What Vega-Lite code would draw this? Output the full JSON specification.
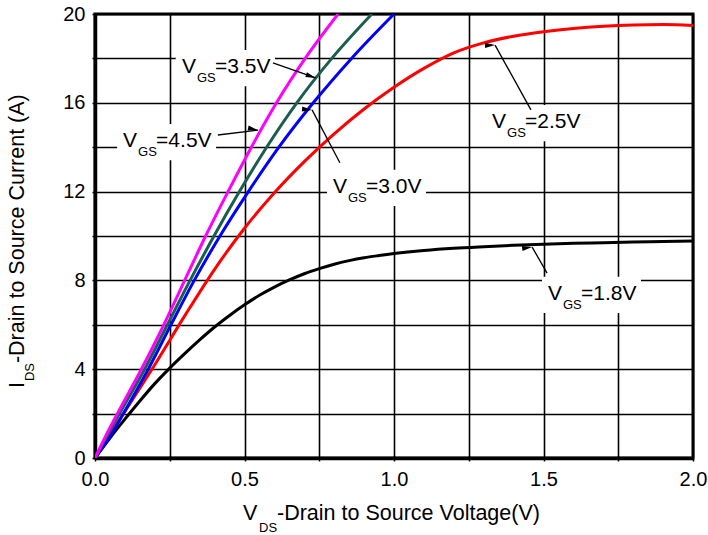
{
  "$schema": "https://vega.github.io/schema/vega-lite/v6.json",
  "width": 598,
  "height": 444,
  "autosize": "none",
  "padding": {"left": 95, "top": 14, "right": 15, "bottom": 77},
  "background": "white",
  "config": {
    "view": {"stroke": "black", "strokeWidth": 3},
    "font": "Liberation Sans"
  },
  "datasets": {
    "curves": [
      {"vgs": "1.8V", "v": 0, "i": 0}, {"vgs": "1.8V", "v": 0.05, "i": 0.9}, {"vgs": "1.8V", "v": 0.1, "i": 1.75}, {"vgs": "1.8V", "v": 0.15, "i": 2.57}, {"vgs": "1.8V", "v": 0.2, "i": 3.35}, {"vgs": "1.8V", "v": 0.25, "i": 4.05}, {"vgs": "1.8V", "v": 0.3, "i": 4.7}, {"vgs": "1.8V", "v": 0.35, "i": 5.32}, {"vgs": "1.8V", "v": 0.4, "i": 5.9}, {"vgs": "1.8V", "v": 0.45, "i": 6.42}, {"vgs": "1.8V", "v": 0.5, "i": 6.9}, {"vgs": "1.8V", "v": 0.55, "i": 7.33}, {"vgs": "1.8V", "v": 0.6, "i": 7.7}, {"vgs": "1.8V", "v": 0.65, "i": 8.02}, {"vgs": "1.8V", "v": 0.7, "i": 8.3}, {"vgs": "1.8V", "v": 0.75, "i": 8.53}, {"vgs": "1.8V", "v": 0.8, "i": 8.73}, {"vgs": "1.8V", "v": 0.85, "i": 8.89}, {"vgs": "1.8V", "v": 0.9, "i": 9.02}, {"vgs": "1.8V", "v": 0.95, "i": 9.12}, {"vgs": "1.8V", "v": 1.0, "i": 9.21}, {"vgs": "1.8V", "v": 1.1, "i": 9.35}, {"vgs": "1.8V", "v": 1.2, "i": 9.45}, {"vgs": "1.8V", "v": 1.3, "i": 9.52}, {"vgs": "1.8V", "v": 1.4, "i": 9.58}, {"vgs": "1.8V", "v": 1.5, "i": 9.63}, {"vgs": "1.8V", "v": 1.6, "i": 9.67}, {"vgs": "1.8V", "v": 1.7, "i": 9.7}, {"vgs": "1.8V", "v": 1.8, "i": 9.73}, {"vgs": "1.8V", "v": 1.9, "i": 9.75}, {"vgs": "1.8V", "v": 2.0, "i": 9.77},
      {"vgs": "2.5V", "v": 0, "i": 0}, {"vgs": "2.5V", "v": 0.1, "i": 2.1}, {"vgs": "2.5V", "v": 0.2, "i": 4.2}, {"vgs": "2.5V", "v": 0.3, "i": 6.4}, {"vgs": "2.5V", "v": 0.4, "i": 8.5}, {"vgs": "2.5V", "v": 0.5, "i": 10.35}, {"vgs": "2.5V", "v": 0.6, "i": 11.95}, {"vgs": "2.5V", "v": 0.7, "i": 13.35}, {"vgs": "2.5V", "v": 0.8, "i": 14.6}, {"vgs": "2.5V", "v": 0.9, "i": 15.72}, {"vgs": "2.5V", "v": 1.0, "i": 16.7}, {"vgs": "2.5V", "v": 1.1, "i": 17.55}, {"vgs": "2.5V", "v": 1.2, "i": 18.25}, {"vgs": "2.5V", "v": 1.3, "i": 18.7}, {"vgs": "2.5V", "v": 1.4, "i": 19.0}, {"vgs": "2.5V", "v": 1.5, "i": 19.2}, {"vgs": "2.5V", "v": 1.6, "i": 19.35}, {"vgs": "2.5V", "v": 1.7, "i": 19.45}, {"vgs": "2.5V", "v": 1.8, "i": 19.51}, {"vgs": "2.5V", "v": 1.9, "i": 19.53}, {"vgs": "2.5V", "v": 2.0, "i": 19.48},
      {"vgs": "3.0V", "v": 0, "i": 0}, {"vgs": "3.0V", "v": 0.052, "i": 1}, {"vgs": "3.0V", "v": 0.095, "i": 2}, {"vgs": "3.0V", "v": 0.178, "i": 4}, {"vgs": "3.0V", "v": 0.254, "i": 6}, {"vgs": "3.0V", "v": 0.332, "i": 8}, {"vgs": "3.0V", "v": 0.418, "i": 10}, {"vgs": "3.0V", "v": 0.513, "i": 12}, {"vgs": "3.0V", "v": 0.615, "i": 14}, {"vgs": "3.0V", "v": 0.73, "i": 16}, {"vgs": "3.0V", "v": 0.858, "i": 18}, {"vgs": "3.0V", "v": 1.0, "i": 20},
      {"vgs": "3.5V", "v": 0, "i": 0}, {"vgs": "3.5V", "v": 0.04, "i": 1}, {"vgs": "3.5V", "v": 0.082, "i": 2}, {"vgs": "3.5V", "v": 0.166, "i": 4}, {"vgs": "3.5V", "v": 0.242, "i": 6}, {"vgs": "3.5V", "v": 0.318, "i": 8}, {"vgs": "3.5V", "v": 0.398, "i": 10}, {"vgs": "3.5V", "v": 0.483, "i": 12}, {"vgs": "3.5V", "v": 0.574, "i": 14}, {"vgs": "3.5V", "v": 0.675, "i": 16}, {"vgs": "3.5V", "v": 0.792, "i": 18}, {"vgs": "3.5V", "v": 0.926, "i": 20},
      {"vgs": "4.5V", "v": 0, "i": 0}, {"vgs": "4.5V", "v": 0.036, "i": 1}, {"vgs": "4.5V", "v": 0.075, "i": 2}, {"vgs": "4.5V", "v": 0.155, "i": 4}, {"vgs": "4.5V", "v": 0.23, "i": 6}, {"vgs": "4.5V", "v": 0.3, "i": 8}, {"vgs": "4.5V", "v": 0.37, "i": 10}, {"vgs": "4.5V", "v": 0.445, "i": 12}, {"vgs": "4.5V", "v": 0.523, "i": 14}, {"vgs": "4.5V", "v": 0.607, "i": 16}, {"vgs": "4.5V", "v": 0.703, "i": 18}, {"vgs": "4.5V", "v": 0.813, "i": 20}
    ],
    "labels": [
      {"vgs": "3.5V", "val": "=3.5V", "lx": 0.291, "ly": 17.34, "bx1": 0.27, "bx2": 0.602, "by1": 16.75, "by2": 18.38, "ax1": 0.595, "ay1": 17.8, "ax2": 0.738, "ay2": 17.12},
      {"vgs": "4.5V", "val": "=4.5V", "lx": 0.094, "ly": 14.0, "bx1": 0.074, "bx2": 0.405, "by1": 13.41, "by2": 15.04, "ax1": 0.411, "ay1": 14.55, "ax2": 0.545, "ay2": 14.77},
      {"vgs": "3.0V", "val": "=3.0V", "lx": 0.796, "ly": 11.94, "bx1": 0.776, "bx2": 1.107, "by1": 11.35, "by2": 12.98, "ax1": 0.819, "ay1": 13.3, "ax2": 0.726, "ay2": 15.68},
      {"vgs": "2.5V", "val": "=2.5V", "lx": 1.328, "ly": 14.86, "bx1": 1.308, "bx2": 1.639, "by1": 14.27, "by2": 15.9, "ax1": 1.458, "ay1": 15.68, "ax2": 1.338, "ay2": 18.6},
      {"vgs": "1.8V", "val": "=1.8V", "lx": 1.515, "ly": 7.12, "bx1": 1.495, "bx2": 1.826, "by1": 6.53, "by2": 8.16, "ax1": 1.512, "ay1": 8.33, "ax2": 1.462, "ay2": 9.5}
    ],
    "xtitle": [{"v": 0.495, "i": -2.79, "sym": "V", "sub": "DS", "rest": "-Drain to Source Voltage(V)"}],
    "ytitle": [{"v": -0.237, "i": 3.15, "sym": "I", "sub": "DS", "rest": "-Drain to Source Current (A)"}]
  },
  "layer": [
    {
      "data": {"name": "labels"},
      "mark": {"type": "rect", "color": "white", "opacity": 1},
      "encoding": {
        "x": {"field": "bx1", "type": "quantitative", "title": null, "scale": {"domain": [0, 2], "nice": false, "zero": false},
          "axis": {"values": [0, 0.25, 0.5, 0.75, 1, 1.25, 1.5, 1.75, 2], "labelExpr": "datum.value % 0.5 == 0 ? format(datum.value, '.1f') : ''", "grid": true, "gridColor": "black", "gridWidth": 1.6, "gridOpacity": 1, "domain": true, "domainColor": "black", "domainWidth": 3.5, "ticks": true, "tickSize": 3, "tickColor": "black", "tickWidth": 1.5, "labelFont": "Liberation Sans", "labelFontSize": 20, "labelColor": "black", "labelPadding": 8, "labelFlush": false, "labelOverlap": false, "labelBound": false}},
        "x2": {"field": "bx2"},
        "y": {"field": "by1", "type": "quantitative", "title": null, "scale": {"domain": [0, 20], "nice": false, "zero": false},
          "axis": {"values": [0, 2, 4, 6, 8, 10, 12, 14, 16, 18, 20], "labelExpr": "datum.value % 4 == 0 ? format(datum.value, 'd') : ''", "grid": true, "gridColor": "black", "gridWidth": 1.6, "gridOpacity": 1, "domain": true, "domainColor": "black", "domainWidth": 3.5, "ticks": true, "tickSize": 3, "tickColor": "black", "tickWidth": 1.5, "labelFont": "Liberation Sans", "labelFontSize": 20, "labelColor": "black", "labelPadding": 7, "labelFlush": false, "labelOverlap": false, "labelBound": false}},
        "y2": {"field": "by2"}
      }
    },
    {
      "data": {"name": "curves"},
      "mark": {"type": "line", "strokeWidth": 3, "interpolate": "monotone", "clip": true},
      "encoding": {
        "x": {"field": "v", "type": "quantitative", "title": null},
        "y": {"field": "i", "type": "quantitative", "title": null},
        "color": {"field": "vgs", "type": "nominal", "legend": null, "scale": {"domain": ["1.8V", "2.5V", "3.0V", "3.5V", "4.5V"], "range": ["#000000", "#ff0000", "#0000ff", "#1b5e50", "#ff00ff"]}}
      }
    },
    {
      "data": {"name": "labels"},
      "mark": {"type": "rule", "color": "black", "strokeWidth": 1.3},
      "encoding": {
        "x": {"field": "ax1", "type": "quantitative", "title": null},
        "y": {"field": "ay1", "type": "quantitative", "title": null},
        "x2": {"field": "ax2"},
        "y2": {"field": "ay2"}
      }
    },
    {
      "data": {"name": "labels"},
      "mark": {"type": "point", "shape": "M0,0L-0.65,2.6L0.65,2.6Z", "filled": true, "color": "black", "opacity": 1, "size": 60},
      "encoding": {
        "x": {"field": "ax2", "type": "quantitative", "title": null},
        "y": {"field": "ay2", "type": "quantitative", "title": null},
        "angle": {"field": "vgs", "type": "nominal", "legend": null, "scale": {"domain": ["3.5V", "4.5V", "3.0V", "2.5V", "1.8V"], "range": [109, 81.5, 335, 330, 330]}}
      }
    },
    {
      "data": {"name": "labels"},
      "mark": {"type": "text", "text": "V", "align": "left", "baseline": "alphabetic", "fontSize": 21, "color": "black"},
      "encoding": {"x": {"field": "lx", "type": "quantitative", "title": null}, "y": {"field": "ly", "type": "quantitative", "title": null}}
    },
    {
      "data": {"name": "labels"},
      "mark": {"type": "text", "text": "GS", "align": "left", "baseline": "alphabetic", "fontSize": 13, "dx": 15, "dy": 9, "color": "black"},
      "encoding": {"x": {"field": "lx", "type": "quantitative", "title": null}, "y": {"field": "ly", "type": "quantitative", "title": null}}
    },
    {
      "data": {"name": "labels"},
      "mark": {"type": "text", "align": "left", "baseline": "alphabetic", "fontSize": 21, "dx": 33, "color": "black"},
      "encoding": {"x": {"field": "lx", "type": "quantitative", "title": null}, "y": {"field": "ly", "type": "quantitative", "title": null}, "text": {"field": "val"}}
    },
    {
      "data": {"name": "xtitle"},
      "mark": {"type": "text", "align": "left", "baseline": "alphabetic", "fontSize": 21.5, "color": "black"},
      "encoding": {"x": {"field": "v", "type": "quantitative", "title": null}, "y": {"field": "i", "type": "quantitative", "title": null}, "text": {"field": "sym"}}
    },
    {
      "data": {"name": "xtitle"},
      "mark": {"type": "text", "align": "left", "baseline": "alphabetic", "fontSize": 13, "dx": 16, "dy": 12, "color": "black"},
      "encoding": {"x": {"field": "v", "type": "quantitative", "title": null}, "y": {"field": "i", "type": "quantitative", "title": null}, "text": {"field": "sub"}}
    },
    {
      "data": {"name": "xtitle"},
      "mark": {"type": "text", "align": "left", "baseline": "alphabetic", "fontSize": 21.5, "dx": 34, "color": "black"},
      "encoding": {"x": {"field": "v", "type": "quantitative", "title": null}, "y": {"field": "i", "type": "quantitative", "title": null}, "text": {"field": "rest"}}
    },
    {
      "data": {"name": "ytitle"},
      "mark": {"type": "text", "align": "left", "baseline": "alphabetic", "angle": 270, "fontSize": 21.5, "color": "black"},
      "encoding": {"x": {"field": "v", "type": "quantitative", "title": null}, "y": {"field": "i", "type": "quantitative", "title": null}, "text": {"field": "sym"}}
    },
    {
      "data": {"name": "ytitle"},
      "mark": {"type": "text", "align": "left", "baseline": "alphabetic", "angle": 270, "fontSize": 13, "dx": 7, "dy": 10, "color": "black"},
      "encoding": {"x": {"field": "v", "type": "quantitative", "title": null}, "y": {"field": "i", "type": "quantitative", "title": null}, "text": {"field": "sub"}}
    },
    {
      "data": {"name": "ytitle"},
      "mark": {"type": "text", "align": "left", "baseline": "alphabetic", "angle": 270, "fontSize": 21.5, "dx": 25, "color": "black"},
      "encoding": {"x": {"field": "v", "type": "quantitative", "title": null}, "y": {"field": "i", "type": "quantitative", "title": null}, "text": {"field": "rest"}}
    }
  ]
}
